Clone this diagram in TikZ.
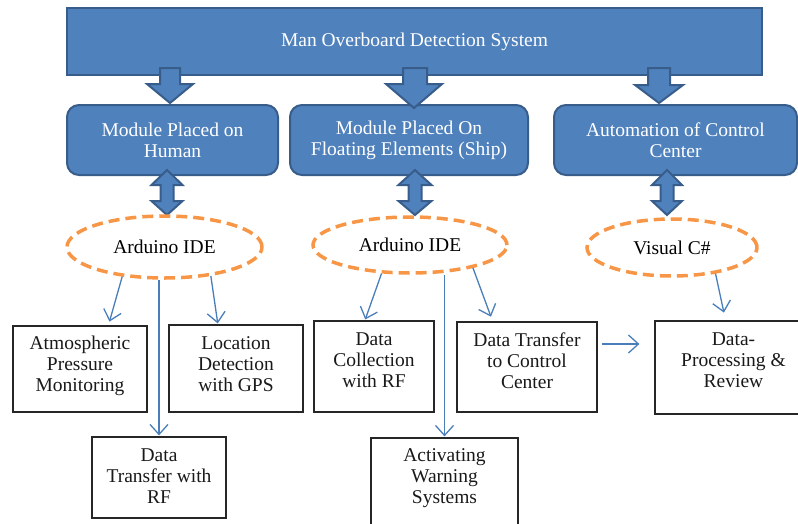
\documentclass[tikz,border=0pt]{standalone}
\usepackage{fontspec}
\setmainfont{Liberation Serif}
\usetikzlibrary{arrows.meta,shapes.geometric,calc}
\definecolor{boxblue}{HTML}{4F81BD}
\definecolor{edgeblue}{HTML}{385D8A}
\definecolor{lineblue}{HTML}{4A7EBB}
\definecolor{dashorange}{HTML}{F79646}

\begin{document}
\begin{tikzpicture}[x=1pt,y=-1pt,
  font=\fontsize{19.5}{21}\selectfont,
  module/.style={draw=edgeblue, line width=2pt, fill=boxblue, rounded corners=12pt,
    text=white, align=center, inner sep=0pt},
  blockarrow/.style={draw=edgeblue, line width=2pt, fill=boxblue, line join=miter},
  toolbox/.style={ellipse, draw=dashorange, line width=3.5pt, dash pattern=on 11pt off 6pt,
    inner sep=0pt, text=black},
  task/.style={rectangle, draw=black!85, line width=1.2pt, inner sep=0pt},
  tasktext/.style={align=center, text=black!90, inner sep=0pt},
  flow/.style={draw=lineblue, line width=1.3pt,
    -{Straight Barb[length=10pt,width=18pt,line width=1.3pt]}},
]
\useasboundingbox (0,0) rectangle (798,523);
\clip (0,0) rectangle (798,523);

% system box
\node[module, rounded corners=0pt, minimum width=695, minimum height=67] (mob) at (414.5,41.5)
  {Man Overboard Detection System};

% modules
\node[module, minimum width=211, minimum height=70] (m1) at (172.5,140) {Module Placed on\\Human};
\node[module, minimum width=238, minimum height=70] (m2) at (409,140) {Module Placed On\\Floating Elements (Ship)};
\node[module, minimum width=243, minimum height=70] (m3) at (675.5,140) {Automation of Control\\Center};

% block arrows from the system box to the modules
\draw[blockarrow] (160,68) -- (180,68) -- (180,84) -- (193,84) -- (170,103) -- (147,84) -- (160,84) -- cycle;
\draw[blockarrow] (403,68) -- (427,68) -- (427,84) -- (442,84) -- (414,108) -- (386,84) -- (403,84) -- cycle;
\draw[blockarrow] (648,68) -- (670,68) -- (670,85) -- (683,85) -- (659,103) -- (635,85) -- (648,85) -- cycle;

% two-way arrows between modules and tools
\foreach \c/\hw in {167/15.5, 415/16.5, 667/15}{
  \draw[blockarrow] (\c,170) -- (\c+\hw,185) -- (\c+6.5,185) -- (\c+6.5,201) -- (\c+\hw,201)
    -- (\c,215) -- (\c-\hw,201) -- (\c-6.5,201) -- (\c-6.5,185) -- (\c-\hw,185) -- cycle;
}

% tools
\node[toolbox, minimum width=195, minimum height=62] (e1) at (164.5,247) {Arduino IDE};
\node[toolbox, minimum width=194, minimum height=56] (e2) at (410,245) {Arduino IDE};
\node[toolbox, minimum width=170, minimum height=57] (e3) at (672,247.5) {Visual C\#};

% tasks
\node[task, minimum width=134, minimum height=86] (r1) at (80,369) {};
\node[task, minimum width=134, minimum height=87] (r2) at (236,368.5) {};
\node[task, minimum width=134, minimum height=81] (r3) at (159,477.5) {};
\node[task, minimum width=120, minimum height=91] (r4) at (374,366.5) {};
\node[task, minimum width=140, minimum height=90] (r5) at (527,367) {};
\node[task, minimum width=147, minimum height=110] (r6) at (444.5,493) {};
\node[task, minimum width=157, minimum height=93] (r7) at (733.5,367.5) {};

\node[tasktext] at (80,365.5) {Atmospheric\\Pressure\\Monitoring};
\node[tasktext] at (236,364) {Location\\Detection\\with GPS};
\node[tasktext] at (159,476) {Data\\Transfer with\\RF};
\node[tasktext] at (374,360) {Data\\Collection\\with RF};
\node[tasktext] at (527,361) {Data Transfer\\to Control\\Center};
\node[tasktext] at (444.5,478) {Activating\\Warning\\Systems};
\node[tasktext] at (733.5,360) {Data-\\Processing \&\\Review};

% connectors
\draw[flow, shorten >=4pt] (e1.-145) -- ($(r1.north west)!0.71!(r1.north east)$);
\draw[flow, shorten >=1pt] (e1.-32) -- ($(r2.north west)!0.366!(r2.north east)$);
\draw[flow, shorten >=1pt] (r3.north |- e1.south) -- (r3.north);
\draw[flow, shorten >=1pt] (e2.-135) -- ($(r4.north west)!0.425!(r4.north east)$);
\draw[flow, shorten >=1pt] (r6.north |- e2.south) -- (r6.north);
\draw[flow, shorten >=5pt] (e2.-20) -- ($(r5.north west)!0.257!(r5.north east)$);
\draw[flow, shorten >=8pt] (e3.-31) -- ($(r7.north west)!0.45!(r7.north east)$);
\draw[flow, shorten <=4pt, shorten >=15pt] ([yshift=23pt]r5.east) -- ([yshift=23pt]r5.east -| r7.west);
\end{tikzpicture}
\end{document}
